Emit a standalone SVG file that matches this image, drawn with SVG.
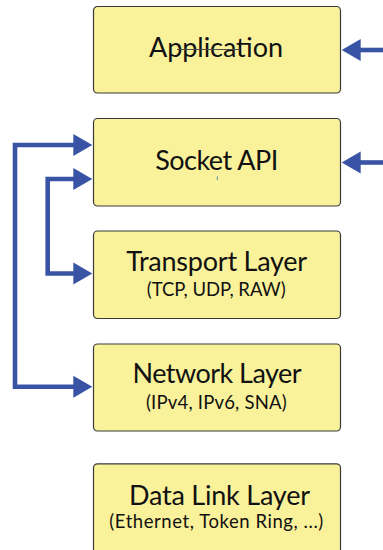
<svg xmlns="http://www.w3.org/2000/svg" width="383" height="550" viewBox="0 0 383 550">
  <defs>
    <style>
      .box { fill: #F9F29B; stroke: #3A3A3A; stroke-width: 1.2; }
      .title { font-family: Lato, "Open Sans", sans-serif; font-size: 27px; fill: #111; text-anchor: middle; }
      .sub { font-family: Lato, "Open Sans", sans-serif; font-size: 18.5px; fill: #111; text-anchor: middle; }
      .wire { fill: none; stroke: #3A54A5; stroke-width: 4.6; stroke-linejoin: miter; }
    </style>
    <marker id="head" markerUnits="userSpaceOnUse" markerWidth="19" markerHeight="22" refX="7" refY="11" orient="auto-start-reverse" overflow="visible">
      <path d="M0,0 L19,11 L0,22 z" fill="#3A54A5"/>
    </marker>
  </defs>

  <rect width="383" height="550" fill="#FFFFFF"/>

  <g id="application">
    <rect class="box" x="93.5" y="6.5" width="247" height="86.5" rx="4"/>
    <text class="title" x="216" y="57.3" textLength="134">Application</text>
    <line x1="177" y1="49.5" x2="240" y2="49.5" stroke="#4A4A4A" stroke-width="1"/>
  </g>

  <g id="socket-api">
    <rect class="box" x="93.5" y="118.5" width="247" height="87.5" rx="4"/>
    <text class="title" x="216.7" y="170" textLength="123">Socket API</text>
    <line x1="217.3" y1="176.5" x2="217.3" y2="180" stroke="#4F86B0" stroke-width="1"/>
  </g>

  <g id="transport-layer">
    <rect class="box" x="93.5" y="231" width="247" height="87.5" rx="4"/>
    <text class="title" x="216.7" y="270.7" textLength="181">Transport Layer</text>
    <text class="sub" x="216.2" y="296" textLength="139">(TCP, UDP, RAW)</text>
  </g>

  <g id="network-layer">
    <rect class="box" x="93.5" y="344" width="247" height="87" rx="4"/>
    <text class="title" x="217" y="383.3" textLength="169">Network Layer</text>
    <text class="sub" x="216.3" y="409.3" textLength="140.7">(IPv4, IPv6, SNA)</text>
  </g>

  <g id="data-link-layer">
    <rect class="box" x="93.5" y="463.8" width="247" height="92" rx="4"/>
    <text class="title" x="219.5" y="504.6" textLength="181">Data Link Layer</text>
    <text class="sub" x="216.3" y="528.2" textLength="214">(Ethernet, Token Ring, ...)</text>
  </g>

  <g id="connectors">
    <path class="wire" d="M383,50 H353.7" marker-end="url(#head)"/>
    <path class="wire" d="M383,162.5 H353.7" marker-end="url(#head)"/>
    <path class="wire" d="M80.3,386.7 H15 V145 H80.3" marker-start="url(#head)" marker-end="url(#head)"/>
    <path class="wire" d="M80.3,273.5 H47.7 V179 H80.3" marker-start="url(#head)" marker-end="url(#head)"/>
  </g>
</svg>
